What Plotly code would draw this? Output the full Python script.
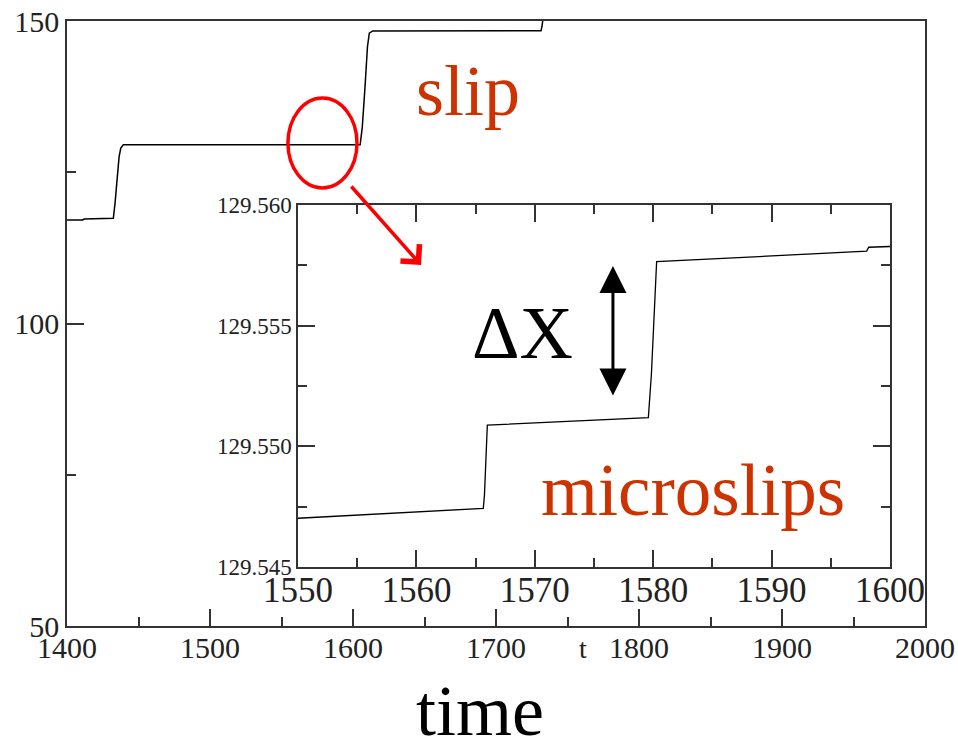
import plotly.graph_objects as go

# Position of the slider over the full run (time vs X)
t_full = [1400, 1411, 1412, 1432.4, 1433.6, 1434.8, 1436.4, 1437.6, 1439.4,
          1605.0, 1606.5, 1608.4, 1610.1, 1611.4, 1613.8, 1731.5, 1732.2, 1733.5]
x_full = [117.11, 117.11, 117.27, 117.39, 119.9, 123.7, 127.5, 129.0, 129.55,
          129.55, 132.5, 139.1, 145.7, 148.0, 148.35, 148.4, 149.2, 151.5]

# Zoom on the plateau: two microslips
t_zoom = [1550.0, 1565.65, 1565.75, 1565.99, 1579.59, 1579.85, 1580.29, 1598.03, 1598.2, 1600.0]
x_zoom = [129.54702, 129.54743, 129.5480, 129.55088, 129.55119, 129.5530, 129.55765,
          129.55809, 129.55825, 129.55828]

main_xticks = [1400, 1500, 1600, 1700, 1800, 1900, 2000]
main_yticks = [50, 100, 150]
zoom_xticks = [1550, 1560, 1570, 1580, 1590, 1600]
zoom_yticks = [129.545, 129.550, 129.555, 129.560]

W, H = 958, 746
SERIF = "Liberation Serif, Times New Roman, serif"
AX = "#333333"
SLIP_RED = "#cc3300"


def px(xp):
    return xp / W


def py(yp):
    return 1 - yp / H


fig = go.Figure()
fig.add_trace(go.Scatter(x=t_full, y=x_full, mode="lines",
                         line=dict(color="black", width=1.5),
                         xaxis="x", yaxis="y", hoverinfo="skip"))
fig.add_trace(go.Scatter(x=t_zoom, y=x_zoom, mode="lines",
                         line=dict(color="black", width=1.3),
                         xaxis="x2", yaxis="y2", hoverinfo="skip"))

axis_common = dict(showgrid=False, zeroline=False, showline=True, automargin=False,
                   linecolor=AX, linewidth=1.5, ticks="inside",
                   tickcolor=AX, tickwidth=1.5, ticklen=17)

fig.update_layout(
    width=W, height=H,
    margin=dict(l=0, r=0, t=0, b=0, autoexpand=False),
    paper_bgcolor="white", plot_bgcolor="white",
    showlegend=False,
    xaxis=dict(axis_common, domain=[px(67), px(925)], range=[1400, 2000],
               tickvals=main_xticks, mirror=True, anchor="y",
               ticklabelstandoff=-6,
               minor=dict(ticks="inside", dtick=50, ticklen=9,
                          tickcolor=AX, tickwidth=1.5),
               tickfont=dict(family=SERIF, size=30, color="#222222")),
    yaxis=dict(axis_common, domain=[py(626), py(21)], range=[50, 150],
               tickvals=main_yticks, mirror=True, anchor="x",
               minor=dict(ticks="inside", dtick=25, ticklen=9,
                          tickcolor=AX, tickwidth=1.5),
               tickfont=dict(family=SERIF, size=30, color="#222222")),
    xaxis2=dict(axis_common, domain=[px(298), px(890)], range=[1550, 1600],
                tickvals=zoom_xticks, mirror="ticks", anchor="y2",
                ticklabelstandoff=-9,
                minor=dict(ticks="inside", dtick=5, ticklen=9,
                           tickcolor=AX, tickwidth=1.5),
                tickfont=dict(family=SERIF, size=35, color="#222222")),
    yaxis2=dict(axis_common, domain=[py(567), py(205)], range=[129.545, 129.560],
                tickvals=zoom_yticks, tickformat=".3f", mirror="ticks", anchor="x2",
                minor=dict(ticks="inside", dtick=0.0025, ticklen=9,
                           tickcolor=AX, tickwidth=1.5),
                tickfont=dict(family=SERIF, size=23, color="#222222")),
)

# Red ellipse marking the zoomed region on the plateau
fig.add_shape(type="circle", xref="x", yref="y",
              x0=1554.5, x1=1602.8, y0=122.4, y1=137.27,
              line=dict(color="#ff0000", width=3.5))

annotations = [
    # arrow from the ellipse into the inset
    dict(text="", x=px(421), y=py(265), xref="paper", yref="paper",
         ax=-71, ay=-80, axref="pixel", ayref="pixel", showarrow=True,
         arrowhead=4, arrowsize=1.4, arrowwidth=3.5, arrowcolor="#ff0000",
         standoff=0),
    # double-headed arrow for the microslip height
    dict(text="", x=1576.6, y=129.55747, xref="x2", yref="y2",
         ax=1576.6, ay=129.55204, axref="x2", ayref="y2", showarrow=True,
         arrowside="end+start", arrowhead=2, startarrowhead=2,
         arrowsize=1.8, startarrowsize=1.8, arrowwidth=3, arrowcolor="black",
         standoff=0, startstandoff=0),
    dict(text="slip", x=px(467.5), y=py(91), xref="paper", yref="paper",
         showarrow=False, xanchor="center", yanchor="middle",
         font=dict(family=SERIF, size=72, color=SLIP_RED)),
    dict(text="microslips", x=px(692.5), y=py(490), xref="paper", yref="paper",
         showarrow=False, xanchor="center", yanchor="middle",
         font=dict(family=SERIF, size=73, color=SLIP_RED)),
    dict(text="ΔX", x=px(522.5), y=py(333), xref="paper", yref="paper",
         showarrow=False, xanchor="center", yanchor="middle",
         font=dict(family=SERIF, size=74, color="black")),
    dict(text="time", x=px(480), y=py(711), xref="paper", yref="paper",
         showarrow=False, xanchor="center", yanchor="middle",
         font=dict(family=SERIF, size=72, color="black")),
    dict(text="t", x=px(583), y=py(648.5), xref="paper", yref="paper",
         showarrow=False, xanchor="center", yanchor="middle",
         font=dict(family=SERIF, size=28, color="#222222")),
]
fig.update_layout(annotations=annotations)

fig.write_html("out.html")
